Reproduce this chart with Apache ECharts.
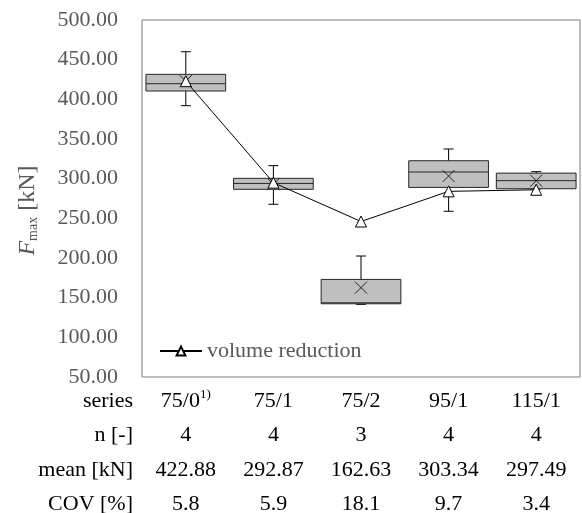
<!DOCTYPE html>
<html>
<head>
<meta charset="utf-8">
<script src="https://cdn.jsdelivr.net/npm/echarts@6/dist/echarts.min.js"></script>
<style>
  html, body { margin: 0; padding: 0; background: #fff; }
  #chart { width: 582px; height: 513px; }
</style>
</head>
<body>
<div id="chart"></div>
<script>
// series labels and the table rows underneath
var categories = ['75/0', '75/1', '75/2', '95/1', '115/1'];
var nValues = ['4', '4', '3', '4', '4'];
var meanValues = [422.88, 292.87, 162.63, 303.34, 297.49];
var covValues = ['5.8', '5.9', '18.1', '9.7', '3.4'];

// box plot values
var boxMin = [392, 267.7, 141.6, 258.9, 287];
var boxQ1 = [410.5, 286.6, 142.3, 289, 287.3];
var boxMedian = [419.7, 294, 143.5, 308.4, 297.5];
var boxQ3 = [431.5, 300.4, 173, 322.6, 307];
var boxMax = [460, 316.4, 202.5, 337.4, 308.8];

var volumeReduction = [422.88, 295, 246, 284, 286];

var yTicks = { min: 50, max: 500, interval: 50 };

var times = 'Times New Roman';

var boxData = categories.map(function (c, i) {
    return [i, boxMin[i], boxQ1[i], boxMedian[i], boxQ3[i], boxMax[i]];
});

function renderBox(params, api) {
    var idx = api.value(0);
    var pMin = api.coord([idx, api.value(1)]);
    var pQ1 = api.coord([idx, api.value(2)]);
    var pMed = api.coord([idx, api.value(3)]);
    var pQ3 = api.coord([idx, api.value(4)]);
    var pMax = api.coord([idx, api.value(5)]);
    var halfW = api.size([1, 0])[0] * 0.455;
    var cap = 5;
    var x = pMed[0];
    var line = { stroke: '#000', lineWidth: 1 };
    return {
        type: 'group',
        children: [
            { type: 'line', shape: { x1: x, y1: pMax[1], x2: x, y2: pQ3[1] }, style: line },
            { type: 'line', shape: { x1: x, y1: pQ1[1], x2: x, y2: pMin[1] }, style: line },
            { type: 'line', shape: { x1: x - cap, y1: pMax[1], x2: x + cap, y2: pMax[1] }, style: line },
            { type: 'line', shape: { x1: x - cap, y1: pMin[1], x2: x + cap, y2: pMin[1] }, style: line },
            {
                type: 'rect',
                shape: { x: x - halfW, y: pQ3[1], width: halfW * 2, height: pQ1[1] - pQ3[1] },
                style: { fill: '#bfbfbf', stroke: '#262626', lineWidth: 1 }
            },
            { type: 'line', shape: { x1: x - halfW, y1: pMed[1], x2: x + halfW, y2: pMed[1] }, style: { stroke: '#262626', lineWidth: 1 } }
        ]
    };
}

function tableAxis(rowName, rowData, offset, rich) {
    return {
        type: 'category',
        gridIndex: 0,
        position: 'bottom',
        offset: offset,
        data: rowData,
        name: rowName,
        nameLocation: 'start',
        nameGap: 9,
        nameMoveOverlap: false,
        nameTextStyle: { fontFamily: times, fontSize: 22, color: '#000', verticalAlign: 'middle', align: 'right' },
        axisLine: { show: false },
        axisTick: { show: false },
        splitLine: { show: false },
        axisLabel: {
            interval: 0,
            margin: 0,
            verticalAlign: 'middle',
            fontFamily: times,
            fontSize: 22,
            color: '#000',
            formatter: rich ? function (v, i) { return i === 0 ? '{a|' + v + '}{s|1)}' : '{a|' + v + '}'; } : null,
            rich: rich ? {
                a: { fontFamily: times, fontSize: 22, color: '#000', lineHeight: 26 },
                s: { fontFamily: times, fontSize: 13, color: '#000', lineHeight: 26, verticalAlign: 'top', padding: [0, 0, 10, 0] }
            } : undefined
        }
    };
}

var chart = echarts.init(document.getElementById('chart'));
chart.setOption({
    animation: false,
    textStyle: { fontFamily: times },
    grid: {
        left: 142, top: 20, right: 2, bottom: 136,
        outerBoundsMode: 'none',
        containLabel: false,
        show: true, borderColor: '#7f7f7f', borderWidth: 1
    },
    legend: {
        data: ['volume reduction'],
        left: 154, top: 335,
        itemWidth: 42, itemHeight: 11,
        textStyle: { fontFamily: times, fontSize: 22, color: '#595959' }
    },
    xAxis: [
        tableAxis('series', categories, 24, true),
        tableAxis('n [-]', nValues, 58, false),
        tableAxis('mean [kN]', meanValues.map(function (v) { return v.toFixed(2); }), 93, false),
        tableAxis('COV [%]', covValues, 127, false)
    ],
    yAxis: {
        type: 'value',
        min: yTicks.min,
        max: yTicks.max,
        interval: yTicks.interval,
        axisLine: { show: false },
        axisTick: { show: false },
        splitLine: { show: false },
        axisLabel: {
            margin: 24,
            fontFamily: times,
            fontSize: 22,
            color: '#595959',
            formatter: function (v) { return v.toFixed(2); }
        },
        name: '{f|F}{s|max}{t| [kN]}',
        nameLocation: 'middle',
        nameGap: 102,
        nameMoveOverlap: false,
        nameTextStyle: {
            padding: [0, 24, 0, 0],
            rich: {
                f: { fontFamily: times, fontSize: 24, fontStyle: 'italic', color: '#595959' },
                s: { fontFamily: times, fontSize: 14, color: '#595959', verticalAlign: 'bottom', padding: [9, 0, 0, 0] },
                t: { fontFamily: times, fontSize: 24, color: '#595959' }
            }
        }
    },
    series: [
        {
            name: 'box',
            type: 'custom',
            xAxisIndex: 0,
            renderItem: renderBox,
            encode: { x: 0, y: [1, 2, 3, 4, 5] },
            data: boxData,
            z: 1
        },
        {
            name: 'mean',
            type: 'scatter',
            xAxisIndex: 0,
            data: meanValues,
            symbol: 'path://M0 0L10 10M10 0L0 10',
            symbolSize: 12,
            itemStyle: { color: 'rgba(0,0,0,0)', borderColor: '#000', borderWidth: 1 },
            z: 3
        },
        {
            name: 'volume reduction',
            type: 'line',
            xAxisIndex: 0,
            data: volumeReduction,
            symbol: 'triangle',
            symbolSize: 11,
            showAllSymbol: true,
            lineStyle: { color: '#000', width: 1 },
            itemStyle: { color: '#fff', borderColor: '#000', borderWidth: 1 },
            z: 4
        }
    ]
});
</script>
</body>
</html>
